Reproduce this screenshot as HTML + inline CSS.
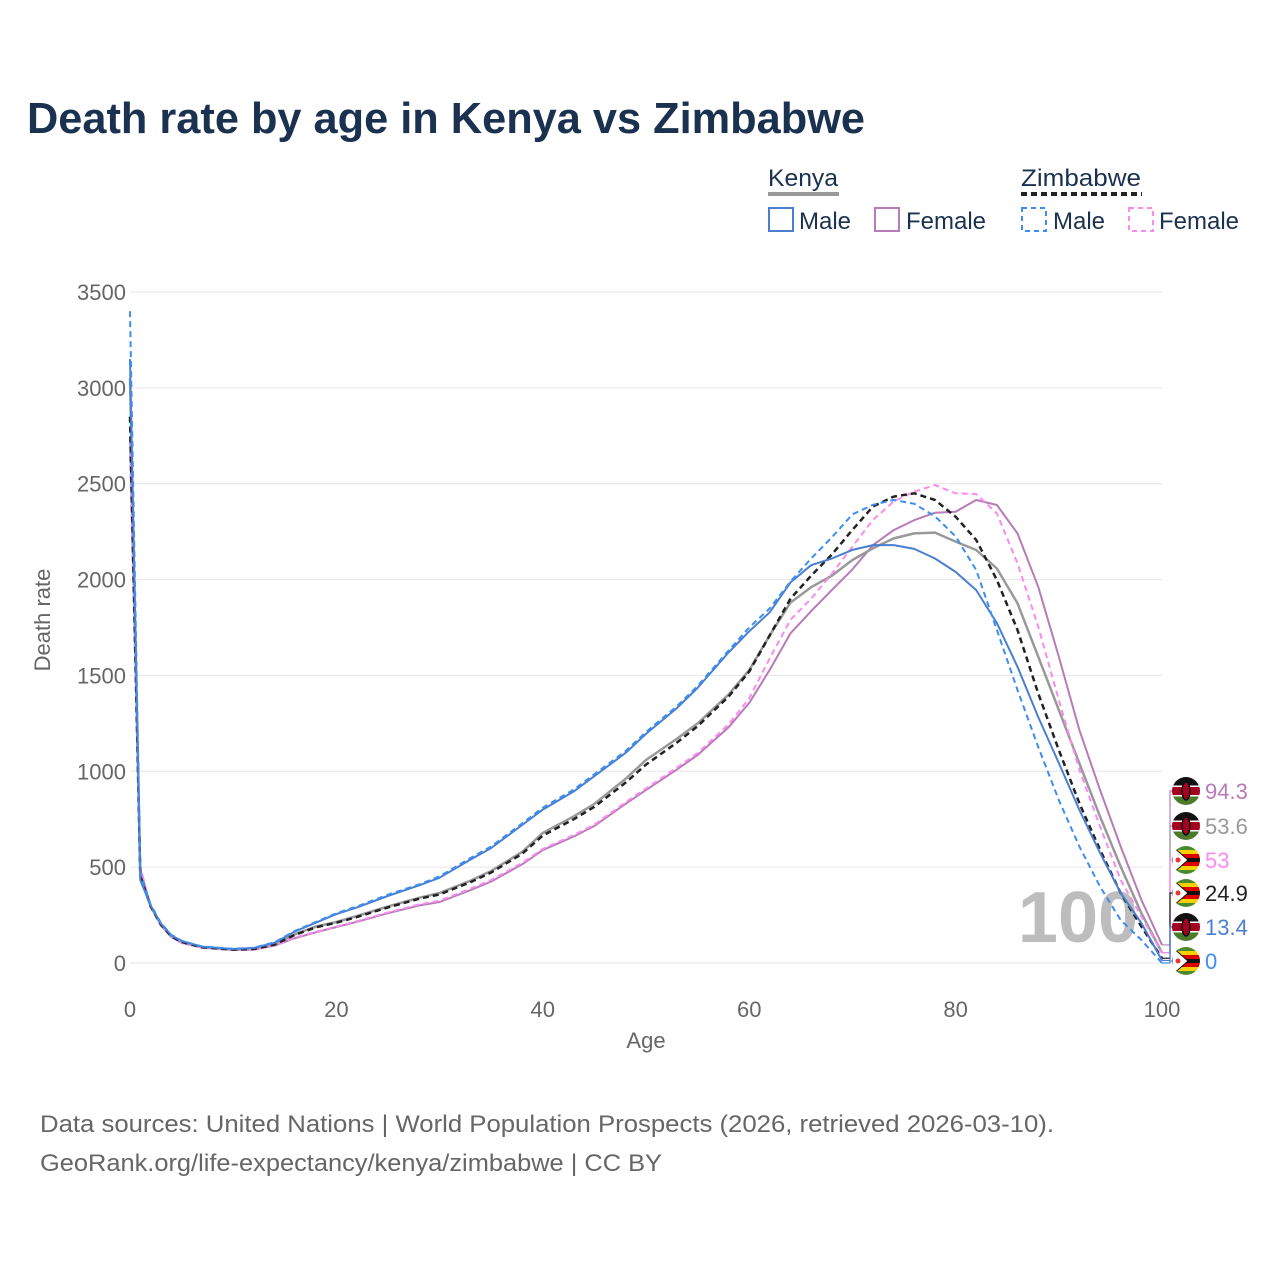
<!DOCTYPE html>
<html><head><meta charset="utf-8"><style>
body{margin:0;background:#fff;}
svg{display:block;font-family:"Liberation Sans",sans-serif;}
</style></head><body>
<svg id="chart" width="1280" height="1280" viewBox="0 0 1280 1280">
<text x="27" y="133" font-size="44" font-weight="bold" fill="#1b3150" textLength="838" lengthAdjust="spacingAndGlyphs">Death rate by age in Kenya vs Zimbabwe</text>
<g>
<text x="768" y="186" font-size="24" fill="#1b3150" textLength="70" lengthAdjust="spacingAndGlyphs">Kenya</text>
<line x1="768" y1="194" x2="839" y2="194" stroke="#999" stroke-width="4"/>
<text x="1021" y="186" font-size="24" fill="#1b3150" textLength="120" lengthAdjust="spacingAndGlyphs">Zimbabwe</text>
<line x1="1021" y1="194" x2="1142" y2="194" stroke="#222" stroke-width="4" stroke-dasharray="6,4"/>
<rect x="769" y="208" width="24" height="23" fill="none" stroke="#4a7fd0" stroke-width="2"/>
<text x="799" y="229" font-size="24" fill="#1b3150">Male</text>
<rect x="875" y="208" width="24" height="23" fill="none" stroke="#b77bb8" stroke-width="2"/>
<text x="906" y="229" font-size="24" fill="#1b3150">Female</text>
<rect x="1022" y="208" width="24" height="23" fill="none" stroke="#3d8ef0" stroke-width="2" stroke-dasharray="5,4"/>
<text x="1053" y="229" font-size="24" fill="#1b3150">Male</text>
<rect x="1129" y="208" width="24" height="23" fill="none" stroke="#f98bf0" stroke-width="2" stroke-dasharray="5,4"/>
<text x="1159" y="229" font-size="24" fill="#1b3150">Female</text>
</g>
<g id="grid"></g>
<text x="1078" y="942" font-size="72" font-weight="bold" fill="#bdbdbd" text-anchor="middle">100</text>
<g id="series"></g>
<g id="endlabels"></g>
<text transform="translate(50,620) rotate(-90)" font-size="22" fill="#666" text-anchor="middle">Death rate</text>
<text x="646" y="1048" font-size="22" fill="#666" text-anchor="middle">Age</text>
<text x="40" y="1132" font-size="24" fill="#666" textLength="1014" lengthAdjust="spacingAndGlyphs">Data sources: United Nations | World Population Prospects (2026, retrieved 2026-03-10).</text>
<text x="40" y="1171" font-size="24" fill="#666" textLength="622" lengthAdjust="spacingAndGlyphs">GeoRank.org/life-expectancy/kenya/zimbabwe | CC BY</text>
</svg>
<script>
const ages=[0,1,2,3,4,5,7,10,12,14,16,18,20,22,25,28,30,33,35,38,40,43,45,48,50,53,55,58,60,62,64,66,68,70,72,74,76,78,80,82,84,86,88,90,92,94,96,98,100];
const kenyaMale=[3150,433,300,205,145,115,85,73,78,105,165,210,255,290,350,405,445,540,600,720,800,895,975,1095,1195,1330,1435,1620,1730,1830,1985,2075,2110,2155,2180,2180,2160,2110,2040,1945,1773,1545,1283,1043,798,573,365,208,13.4];
const zimMale=[3400,470,305,208,147,116,86,74,80,108,168,214,260,295,356,410,452,548,608,728,810,905,985,1105,1205,1340,1445,1630,1750,1850,1990,2110,2220,2340,2390,2415,2395,2330,2225,2050,1737,1424,1127,850,607,398,224,120,0];
const kenyaTotal=[3050,450,295,200,140,110,82,70,74,98,150,190,214,245,295,340,365,430,480,580,678,765,830,960,1059,1170,1250,1400,1528,1710,1880,1960,2020,2102,2163,2215,2241,2245,2198,2154,2058,1876,1598,1320,1041,763,503,259,53.6];
const zimTotal=[2850,455,296,200,140,110,82,70,73,96,147,186,210,240,290,335,358,422,472,570,665,750,815,940,1035,1150,1235,1390,1520,1710,1900,2020,2130,2259,2381,2433,2450,2415,2328,2207,1998,1737,1407,1111,833,590,364,190,24.9];
const kenyaFemale=[2750,490,295,195,135,105,80,68,70,90,130,160,188,215,260,300,318,380,425,515,589,660,715,830,902,1010,1085,1230,1356,1530,1720,1835,1945,2053,2180,2258,2310,2349,2354,2415,2389,2241,1963,1598,1215,902,607,329,94.3];
const zimFemale=[2650,500,297,196,136,106,80,68,70,92,133,163,190,218,264,305,325,388,433,522,595,668,722,838,910,1020,1095,1245,1380,1590,1790,1900,2030,2172,2311,2407,2459,2493,2450,2446,2345,2085,1755,1372,1007,711,433,242,53];
const yTicks=[0,500,1000,1500,2000,2500,3000,3500];
const xTicks=[0,20,40,60,80,100];
const endValues=[94.3,53.6,53,24.9,13.4,0];
const endCountries=['kenya','kenya','zimbabwe','zimbabwe','kenya','zimbabwe'];
const endColors=['#b77bb8','#999999','#f98bf0','#222222','#4a7fd0','#3d8ef0'];

const NS='http://www.w3.org/2000/svg';
const X0=130,X1=1162,Y0=963,Y1=292;
const xs=a=>X0+(a/100)*(X1-X0);
const ys=v=>Y0-(v/3500)*(Y0-Y1);
function mk(tag,attrs,parent){const e=document.createElementNS(NS,tag);for(const k in attrs)e.setAttribute(k,attrs[k]);parent.appendChild(e);return e;}
const grid=document.getElementById('grid');
yTicks.forEach(t=>{
  const l=mk('line',{x1:X0,x2:X1,y1:ys(t),y2:ys(t),stroke:'#e6e6e6','stroke-width':1},grid);
  
  
  const tx=mk('text',{x:126,y:ys(t)+8,'font-size':22,fill:'#666','text-anchor':'end'},grid);
  tx.textContent=t;
  
  
});
xTicks.forEach(t=>{
  const tx=mk('text',{x:xs(t),y:1017,'font-size':22,fill:'#666','text-anchor':'middle'},grid);
  tx.textContent=t;
  
  
});
const ser=document.getElementById('series');
const defs=[
 [kenyaFemale,'#b77bb8',null,2,'kenya-female-line'],
 [kenyaTotal,'#999999',null,2.5,'kenya-total-line'],
 [zimFemale,'#f98bf0','6,4',2,'zimbabwe-female-line'],
 [zimTotal,'#222222','6,4',2.5,'zimbabwe-total-line'],
 [kenyaMale,'#4a7fd0',null,2,'kenya-male-line'],
 [zimMale,'#3d8ef0','6,4',2,'zimbabwe-male-line']];
defs.forEach(d=>{
  const pts=ages.map((a,i)=>xs(a).toFixed(1)+','+ys(d[0][i]).toFixed(1)).join(' ');
  const p=mk('polyline',{points:pts,fill:'none',stroke:d[1],'stroke-width':d[3],'stroke-linejoin':'round'},ser);
  if(d[2])p.setAttribute('stroke-dasharray',d[2]);
  
  
});
const el=document.getElementById('endlabels');
function flag(cx,cy,country,g){
  const id='c'+Math.round(cy);
  const cp=mk('clipPath',{id:id},g);mk('circle',{cx:cx,cy:cy,r:14},cp);
  const f=mk('g',{'clip-path':'url(#'+id+')'},g);
  if(country==='kenya'){
    mk('rect',{x:cx-14,y:cy-14,width:28,height:9,fill:'#111'},f);
    mk('rect',{x:cx-14,y:cy-5,width:28,height:10,fill:'#a50020'},f);
    mk('rect',{x:cx-14,y:cy+5,width:28,height:9,fill:'#4a7a2c'},f);
    mk('rect',{x:cx-14,y:cy-5.5,width:28,height:1.5,fill:'#fff'},f);
    mk('rect',{x:cx-14,y:cy+4,width:28,height:1.5,fill:'#fff'},f);
    mk('ellipse',{cx:cx,cy:cy,rx:4,ry:9,fill:'#a50020',stroke:'#111','stroke-width':1.5},f);
  } else {
    const c=['#4a8a2c','#f5d000','#d00','#111','#d00','#f5d000','#4a8a2c'];
    c.forEach((col,i)=>mk('rect',{x:cx-14,y:cy-14+i*4,width:28,height:4.2,fill:col},f));
    mk('polygon',{points:(cx-14)+','+(cy-14)+' '+(cx+2)+','+cy+' '+(cx-14)+','+(cy+14),fill:'#fff',stroke:'#111','stroke-width':1},f);
    mk('circle',{cx:cx-8,cy:cy,r:2.5,fill:'#e33'},f);
  }
}
const labelY=[791,826,860,893,927,961];
endValues.forEach((v,i)=>{
  const g=mk('g',{},el);
  
  
  const y=labelY[i];
  mk('polyline',{points:X1+','+ys(v)+' '+(X1+8)+','+ys(v)+' '+(X1+8)+','+y+' '+(X1+12)+','+y,fill:'none',stroke:endColors[i],'stroke-width':1.2},g);
  flag(1186,y,endCountries[i],g);
  const t=mk('text',{x:1205,y:y+8,'font-size':22,fill:endColors[i]},g);
  t.textContent=v;
});
</script>
</body></html>
